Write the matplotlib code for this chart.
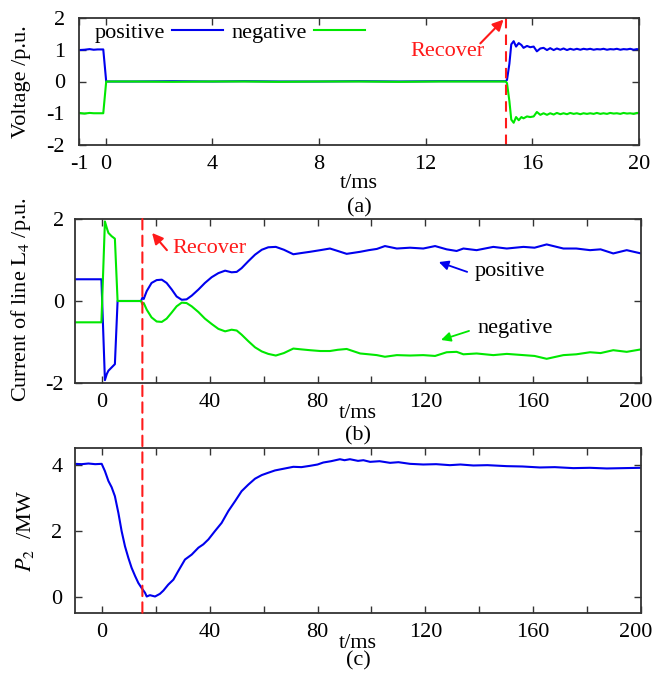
import matplotlib
matplotlib.use("Agg")
import matplotlib.pyplot as plt
from matplotlib.patches import ConnectionPatch
from matplotlib.transforms import ScaledTranslation

plt.rcParams['font.family'] = ['Liberation Serif', 'DejaVu Serif']
plt.rcParams['mathtext.fontset'] = 'stix'
plt.rcParams['font.size'] = 16
plt.rcParams['axes.unicode_minus'] = False

BLUE = '#0000ee'
GREEN = '#00e800'
RED = '#ff1a1a'
EDGE = '#333333'

# ---- (a) pole voltage ----
va_t = [-1.0, -0.8, -0.6, -0.45, -0.3, -0.09, 0.02, 1.0, 2.5, 4.0, 5.2, 6.5, 8.0, 9.5,
        11.0, 12.5, 14.0, 15.0, 15.05, 15.14, 15.21, 15.30, 15.39, 15.49, 15.59, 15.67,
        15.80, 15.92, 16.05, 16.17, 16.30, 16.42, 16.55, 16.67, 16.80, 16.92, 17.05,
        17.17, 17.30, 17.42, 17.55, 17.67, 17.80, 17.92, 18.05, 18.17, 18.30, 18.42,
        18.55, 18.67, 18.80, 18.92, 19.05, 19.17, 19.30, 19.42, 19.55, 19.67, 19.80,
        19.92, 20.0]
va_pos = [0.99, 1.0, 1.02, 1.0, 1.01, 1.01, 0.0, 0.0, 0.01, 0.0, 0.01, 0.0, 0.0, 0.01,
          0.0, 0.01, 0.01, 0.01, 0.05, 0.56, 1.17, 1.27, 1.10, 1.21, 1.15, 1.06,
          1.12, 1.08, 1.10, 0.95, 1.04, 1.06, 0.99, 1.05, 0.99, 1.04, 1.00,
          1.04, 0.99, 1.03, 1.00, 1.03, 1.00, 1.03, 1.01, 1.03, 1.00, 1.02,
          1.01, 1.03, 1.00, 1.02, 1.01, 1.03, 1.00, 1.02, 1.01, 1.03, 1.00,
          1.02, 1.01]
va_neg = [-0.99, -1.01, -0.99, -1.0, -1.0, -1.0, 0.0, 0.0, -0.01, 0.0, 0.0, -0.01, 0.0, 0.0,
          -0.01, 0.0, 0.0, 0.0, -0.05, -0.62, -1.20, -1.30, -1.12, -1.22, -1.12, -1.16,
          -1.10, -1.12, -1.10, -0.96, -1.05, -1.00, -1.05, -1.00, -1.04, -0.99, -1.03,
          -1.00, -1.03, -0.99, -1.02, -1.00, -1.03, -1.00, -1.02, -1.00, -1.02, -0.99,
          -1.02, -1.00, -1.02, -0.99, -1.01, -1.00, -1.02, -0.99, -1.01, -1.00, -1.02,
          -0.99, -0.99]

# ---- (b) current of line L4 ----
ib_t = [-10, -0.2, 1.1, 1.8, 2.4, 3.6, 4.8, 5.8, 10, 14.5, 15.0, 15.5, 16.6, 18.4,
        20.3, 22.2, 24.0, 25.9, 27.7, 29.6, 31.4, 33.3, 35.8, 38.2, 40.7, 43.2, 45.7,
        48.1, 50.0, 51.8, 54.3, 56.8, 59.3, 61.7, 64.5, 67.5, 71.0, 74.0, 77.2, 81.0,
        84.6, 87.5, 90.8, 95.8, 99.0, 102.0, 105.0, 109.4, 114.3, 119.2, 123.6, 127.9,
        131.6, 134.1, 139.0, 145.2, 150.2, 156.4, 160.5, 165.0, 171.2, 176.0, 181.1,
        185.0, 189.7, 194.7, 200.0]
ib_pos = [0.53, 0.53, -1.93, -1.78, -1.70, -1.62, -1.54, 0.0, 0.0, 0.0, 0.08, 0.05,
          0.24, 0.44, 0.51, 0.52, 0.44, 0.28, 0.11, 0.03, 0.04, 0.13, 0.28, 0.44, 0.58,
          0.68, 0.74, 0.70, 0.71, 0.80, 0.97, 1.13, 1.25, 1.31, 1.32, 1.25, 1.14, 1.17,
          1.20, 1.24, 1.28, 1.22, 1.15, 1.20, 1.24, 1.27, 1.34, 1.28, 1.30, 1.28, 1.34,
          1.26, 1.22, 1.28, 1.24, 1.32, 1.28, 1.32, 1.30, 1.38, 1.28, 1.28, 1.24, 1.26,
          1.16, 1.24, 1.16]
ib_neg = [-0.52, -0.52, 1.94, 1.78, 1.66, 1.58, 1.52, 0.0, 0.0, 0.0, -0.08, -0.05,
          -0.21, -0.40, -0.50, -0.51, -0.43, -0.28, -0.13, -0.04, -0.05, -0.13, -0.27,
          -0.43, -0.56, -0.68, -0.74, -0.70, -0.72, -0.82, -0.98, -1.13, -1.23, -1.29,
          -1.33, -1.27, -1.16, -1.18, -1.20, -1.22, -1.22, -1.19, -1.17, -1.28, -1.30,
          -1.32, -1.36, -1.32, -1.33, -1.32, -1.34, -1.25, -1.24, -1.30, -1.28, -1.32,
          -1.29, -1.32, -1.34, -1.41, -1.32, -1.30, -1.25, -1.27, -1.20, -1.24, -1.18]

# ---- (c) P2 ----
pc_t = [-10, -7.5, -5, -2.5, -0.1, 1.1, 2.4, 3.6, 4.8, 6.1, 7.3, 8.55, 9.8, 11.0, 12.3,
        13.5, 14.7, 16.0, 16.6, 17.8, 19.7, 21.5, 22.8, 24.6, 26.5, 28.3, 30.8, 33.3,
        35.8, 37.6, 39.5, 41.9, 44.4, 46.9, 49.4, 51.8, 54.3, 56.8, 59.3, 61.7, 64.2,
        67.9, 71.0, 74.0, 77.2, 80.0, 82.1, 85.0, 88.3, 90.0, 92.0, 95.0, 97.0, 99.5,
        103.0, 106.9, 110.0, 114.3, 119.2, 124.0, 129.1, 133.0, 137.8, 143.0, 150.2,
        156.0, 162.5, 168.0, 174.9, 181.0, 187.3, 193.5, 200.0]
pc_p = [4.02, 4.01, 4.03, 4.01, 4.02, 3.80, 3.50, 3.31, 3.04, 2.53, 1.98, 1.52, 1.17,
        0.87, 0.62, 0.41, 0.26, 0.11, 0.0, 0.04, 0.0, 0.08, 0.18, 0.36, 0.51, 0.77,
        1.12, 1.27, 1.48, 1.58, 1.73, 1.98, 2.23, 2.59, 2.89, 3.19, 3.39, 3.57, 3.68,
        3.75, 3.82, 3.88, 3.93, 3.92, 3.96, 4.00, 4.06, 4.10, 4.16, 4.13, 4.16, 4.11,
        4.13, 4.08, 4.10, 4.05, 4.07, 4.02, 4.00, 4.01, 3.98, 4.00, 3.97, 3.98, 3.95,
        3.94, 3.91, 3.92, 3.89, 3.90, 3.88, 3.89, 3.90]

W, H = 655, 674
fig = plt.figure(figsize=(W / 100, H / 100), dpi=100)


def frame(x0, y0, x1, y1):
    return [x0 / W, 1 - y1 / H, (x1 - x0) / W, (y1 - y0) / H]


def style(ax, ypad):
    for s in ax.spines.values():
        s.set_color(EDGE)
        s.set_linewidth(1.3)
    ax.tick_params(which='both', direction='in', top=True, right=True,
                   length=5, width=1, color=EDGE)
    ax.tick_params(axis='x', pad=7)
    ax.tick_params(axis='y', pad=ypad)


def nudge_last(ax, dx_px):
    # keep the rightmost tick label inside the figure
    fig.canvas.draw()
    lab = ax.get_xticklabels()[-1]
    lab.set_transform(lab.get_transform() + ScaledTranslation(dx_px / 100, 0, fig.dpi_scale_trans))


ax_a = fig.add_axes(frame(79, 18, 639, 145))
ax_b = fig.add_axes(frame(75, 219, 641, 383))
ax_c = fig.add_axes(frame(75, 448, 641, 613))

# (a)
ax_a.plot(va_t, va_pos, color=BLUE, lw=1.5, label='positive')
ax_a.plot(va_t, va_neg, color=GREEN, lw=1.5, label='negative')
ax_a.set_xlim(-1, 20)
ax_a.set_ylim(-2, 2)
ax_a.set_xticks([-1, 0, 4, 8, 12, 16, 20])
ax_a.set_yticks([-2, -1, 0, 1, 2])
ax_a.axvline(15, color=RED, lw=1.5, dashes=(5, 3))
ax_a.annotate('', xy=(14.92, 1.95), xytext=(14.05, 1.2),
              arrowprops=dict(arrowstyle='-|>', color=RED, lw=1.5,
                              mutation_scale=16, shrinkA=0, shrinkB=0))
ax_a.text(12.8, 0.93, 'Recover', color=RED, ha='center', va='center')
ax_a.legend(loc='upper left', bbox_to_anchor=(0.02, 1.0), ncol=2, frameon=False,
            markerfirst=False, handlelength=2.3, handletextpad=0.3,
            columnspacing=0.4, borderaxespad=0, borderpad=0.2, fontsize=16)
style(ax_a, 10)

# (b)
ax_b.plot(ib_t, ib_pos, color=BLUE, lw=1.5)
ax_b.plot(ib_t, ib_neg, color=GREEN, lw=1.5)
ax_b.set_xlim(-10, 200)
ax_b.set_ylim(-2, 2)
ax_b.set_xticks([0, 40, 80, 120, 160, 200])
ax_b.set_xticks([20, 60, 100, 140, 180], minor=True)
ax_b.set_yticks([-2, 0, 2])
ax_b.annotate('', xy=(18.6, 1.66), xytext=(24.1, 1.24),
              arrowprops=dict(arrowstyle='-|>', color=RED, lw=1.5,
                              mutation_scale=16, shrinkA=0, shrinkB=0))
ax_b.text(26, 1.27, 'Recover', color=RED, ha='left', va='center')
ax_b.annotate('', xy=(125, 0.95), xytext=(135.5, 0.71),
              arrowprops=dict(arrowstyle='-|>', color=BLUE, lw=1.3,
                              mutation_scale=14, shrinkA=0, shrinkB=0))
ax_b.text(138.4, 0.73, 'positive', ha='left', va='center')
ax_b.annotate('', xy=(125.8, -0.95), xytext=(136.2, -0.73),
              arrowprops=dict(arrowstyle='-|>', color=GREEN, lw=1.3,
                              mutation_scale=14, shrinkA=0, shrinkB=0))
ax_b.text(139.5, -0.68, 'negative', ha='left', va='center')
style(ax_b, 8)

# (c)
ax_c.plot(pc_t, pc_p, color=BLUE, lw=1.5)
ax_c.set_xlim(-10, 200)
ax_c.set_ylim(-0.5, 4.5)
ax_c.set_xticks([0, 40, 80, 120, 160, 200])
ax_c.set_xticks([20, 60, 100, 140, 180], minor=True)
ax_c.set_yticks([0, 2, 4])
style(ax_c, 9)

# recover line crossing (b) and (c)
con = ConnectionPatch(xyA=(15, 2), coordsA=ax_b.transData,
                      xyB=(15, -0.65), coordsB=ax_c.transData,
                      color=RED, lw=1.5, linestyle=(0, (5, 3)))
fig.add_artist(con)

# labels
fig.text(22 / W, 1 - 82 / H, 'Voltage /p.u.', rotation=90, ha='center', va='center')
fig.text(21 / W, 1 - 300 / H, r'Current of line $\mathrm{L}_4$ /p.u.', rotation=90,
         ha='center', va='center')
fig.text(25 / W, 1 - 531 / H, r'$P_2$  /MW', rotation=90, ha='center', va='center')

for cx, ys, lab in [(359, (183, 208), '(a)'), (358, (413, 436), '(b)'), (358, (643, 661), '(c)')]:
    fig.text(cx / W, 1 - ys[0] / H, 't/ms', ha='center', va='center')
    fig.text(cx / W, 1 - ys[1] / H, lab, ha='center', va='center')

nudge_last(ax_b, -5)
nudge_last(ax_c, -5)

fig.savefig('out.png', dpi=100)
